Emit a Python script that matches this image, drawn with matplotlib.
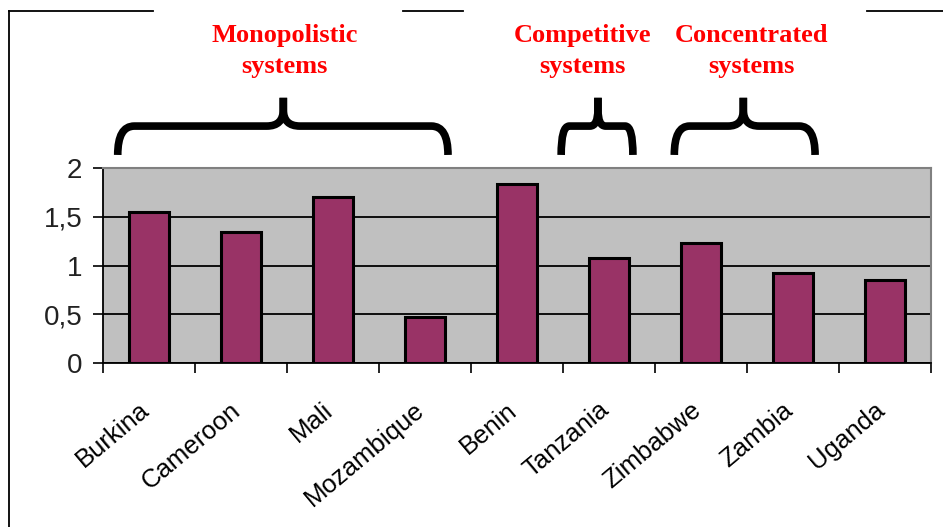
import numpy as np
import matplotlib.pyplot as plt
from matplotlib.path import Path
from matplotlib.patches import PathPatch
from matplotlib.lines import Line2D
from matplotlib.ticker import FuncFormatter, FixedLocator
import matplotlib.transforms as mtransforms

countries = ["Burkina", "Cameroon", "Mali", "Mozambique", "Benin",
             "Tanzania", "Zimbabwe", "Zambia", "Uganda"]
values = [1.55, 1.34, 1.70, 0.47, 1.84, 1.08, 1.23, 0.92, 0.85]

# market structure groups: label, brace left / centre / right, label centre (category units)
group_labels = ["Monopolistic\nsystems", "Competitive\nsystems", "Concentrated\nsystems"]
brace_left = [-0.34, 4.48, 5.71]
brace_mid = [1.46, 4.88, 6.46]
brace_right = [3.25, 5.26, 7.24]
label_x = [1.47, 4.71, 6.55]

BAR_COLOR = "#993366"
BG_COLOR = "#C0C0C0"

W, H = 943, 527
fig = plt.figure(figsize=(W / 100, H / 100), dpi=100)
ax = fig.add_axes([103 / W, 1 - 363 / H, 828 / W, 195 / H])
ax.set_facecolor(BG_COLOR)

x = np.arange(len(countries))
ax.bar(x, values, width=0.43, color=BAR_COLOR, edgecolor="black", linewidth=2.2, zorder=3)

ax.set_xlim(-0.5, len(countries) - 0.5)
ax.set_ylim(0, 2)
ax.set_yticks(np.arange(0, 2.01, 0.5))
ax.yaxis.set_major_formatter(FuncFormatter(lambda v, p: f"{v:g}".replace(".", ",")))
ax.yaxis.grid(True, color="black", linewidth=1.3, zorder=1)
ax.set_axisbelow(True)

# category boundaries carry the ticks; names hang just left of each centre
ax.xaxis.set_major_locator(FixedLocator(np.arange(-0.5, len(countries), 1.0)))
ax.xaxis.set_major_formatter(FuncFormatter(lambda v, p: ""))
ax.xaxis.set_minor_locator(FixedLocator(x - 0.12))
ax.set_xticklabels(countries, minor=True, rotation=40, ha="right", va="top",
                   rotation_mode="anchor", fontsize=18.5, family="Liberation Sans")
ax.tick_params(axis="x", which="minor", length=0, pad=25)
ax.tick_params(axis="x", which="major", length=7, width=1.2, direction="out")
ax.tick_params(axis="y", length=7, width=1.2, direction="out", pad=8, labelsize=20,
               labelcolor="#222222")
for lab in ax.get_yticklabels():
    lab.set_family("Liberation Sans")

for side in ["top", "right"]:
    ax.spines[side].set_color("#808080")
    ax.spines[side].set_linewidth(1.5)
for side in ["left", "bottom"]:
    ax.spines[side].set_color("black")
    ax.spines[side].set_linewidth(1.3)

# curly braces above the bars, x in categories, y in axes fraction
trans = mtransforms.blended_transform_factory(ax.transData, ax.transAxes)
yb, yh, ym, yt = 1.067, 1.215, 1.30, 1.36
for xl, xc, xr in zip(brace_left, brace_mid, brace_right):
    for xe in (xl, xr):
        sgn = 1 if xe < xc else -1
        a = min(0.18, abs(xc - xe) * 0.22)
        verts = [(xe, yb), (xe, yh), (xe + sgn * a, yh),
                 (xc - sgn * a, yh), (xc, yh), (xc, ym), (xc, yt)]
        codes = [Path.MOVETO, Path.CURVE3, Path.CURVE3,
                 Path.LINETO, Path.CURVE3, Path.CURVE3, Path.LINETO]
        ax.add_patch(PathPatch(Path(verts, codes), transform=trans, fill=False,
                               edgecolor="black", linewidth=5.5, capstyle="butt",
                               joinstyle="round", clip_on=False))

for lab, lx in zip(group_labels, label_x):
    ax.text(lx, 1.60, lab, transform=trans, ha="center", va="center",
            color="red", fontsize=19, fontweight="bold", family="Liberation Serif",
            linespacing=1.4)

# outer frame, partly hidden behind the labels
frame = [((9, 153), (11, 11)), ((403, 463), (11, 11)), ((867, 943), (11, 11)),
         ((9, 9), (11, 527))]
for xs, ys in frame:
    fig.add_artist(Line2D([v / W for v in xs], [1 - v / H for v in ys],
                          transform=fig.transFigure, color="black", linewidth=1.3))

fig.savefig("out.png", dpi=100)
